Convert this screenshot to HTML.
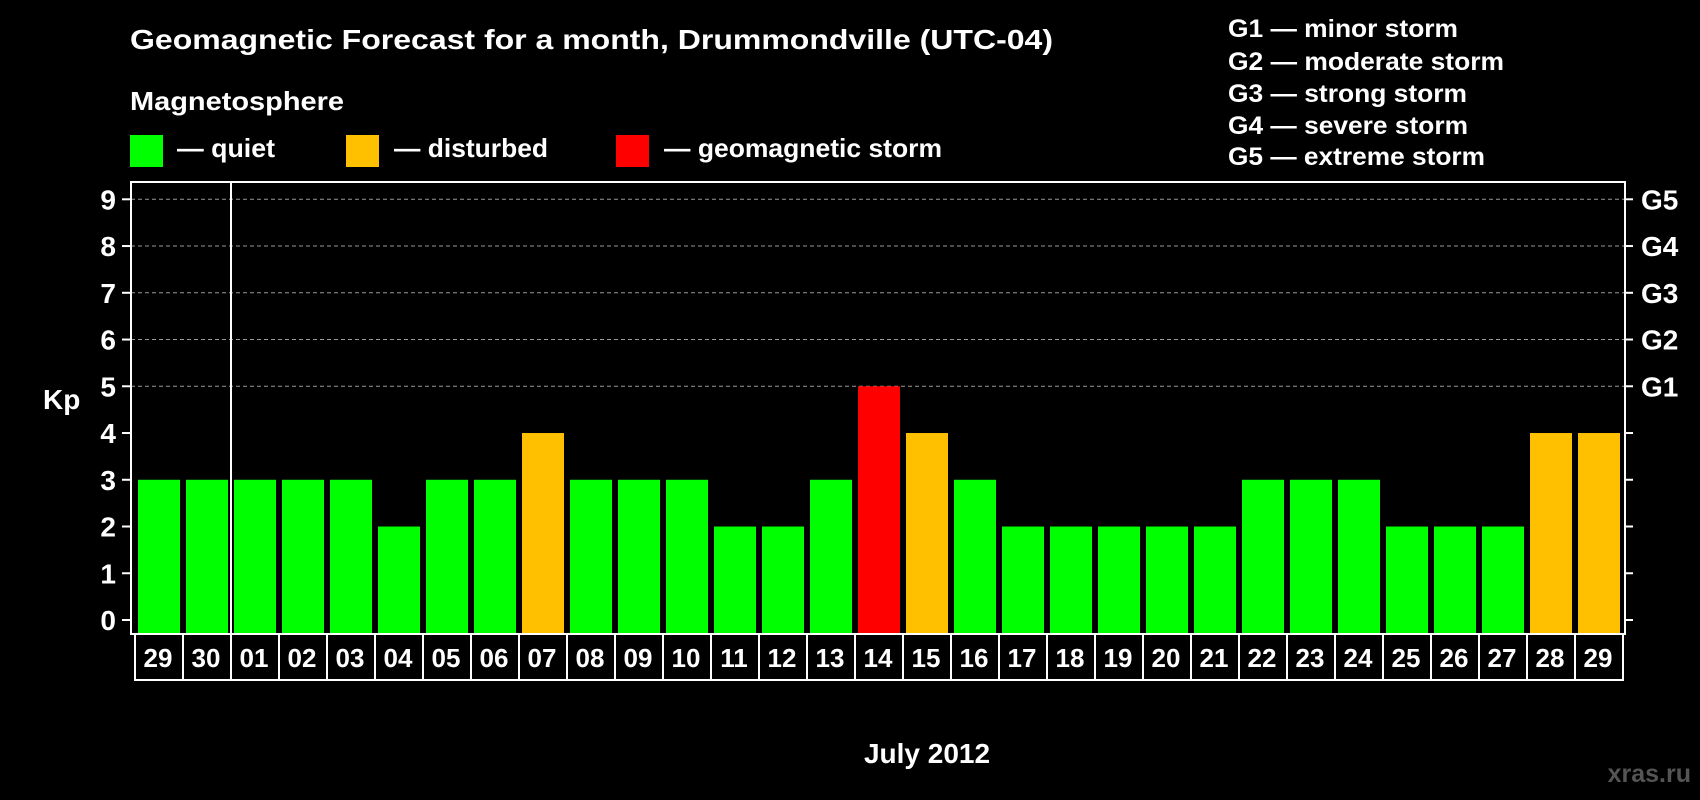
<!DOCTYPE html>
<html><head><meta charset="utf-8"><style>
html,body{margin:0;padding:0;background:#000;}
svg{display:block;font-family:"Liberation Sans",Arial,sans-serif;font-weight:bold;}
</style></head><body>
<svg id="chart" width="1700" height="800" viewBox="0 0 1700 800">
<rect width="1700" height="800" fill="#000"/>
<text x="130" y="49" fill="#fff" font-size="28" textLength="923" lengthAdjust="spacingAndGlyphs">Geomagnetic Forecast for a month, Drummondville (UTC-04)</text>
<text x="130" y="110" fill="#fff" font-size="26" textLength="214" lengthAdjust="spacingAndGlyphs">Magnetosphere</text>
<rect x="130" y="135" width="33" height="32" fill="#00ff00"/>
<text x="177" y="157" fill="#fff" font-size="26" textLength="98" lengthAdjust="spacingAndGlyphs">— quiet</text>
<rect x="346" y="135" width="33" height="32" fill="#ffc000"/>
<text x="394" y="157" fill="#fff" font-size="26" textLength="154" lengthAdjust="spacingAndGlyphs">— disturbed</text>
<rect x="616" y="135" width="33" height="32" fill="#ff0000"/>
<text x="664" y="157" fill="#fff" font-size="26" textLength="278" lengthAdjust="spacingAndGlyphs">— geomagnetic storm</text>
<g fill="#fff" font-size="25">
<text x="1228" y="37" textLength="230" lengthAdjust="spacingAndGlyphs">G1 — minor storm</text>
<text x="1228" y="70" textLength="276" lengthAdjust="spacingAndGlyphs">G2 — moderate storm</text>
<text x="1228" y="102" textLength="239" lengthAdjust="spacingAndGlyphs">G3 — strong storm</text>
<text x="1228" y="134" textLength="240" lengthAdjust="spacingAndGlyphs">G4 — severe storm</text>
<text x="1228" y="165" textLength="257" lengthAdjust="spacingAndGlyphs">G5 — extreme storm</text>
</g>
<text x="43" y="409" fill="#fff" font-size="28">Kp</text>
<text x="927" y="763" fill="#fff" font-size="28" text-anchor="middle">July 2012</text>
<text x="1691" y="782" fill="#555" font-size="25" text-anchor="end">xras.ru</text>
<g id="plot"></g>
</svg>
<script>
const days = ["29","30","01","02","03","04","05","06","07","08","09","10","11","12","13","14","15","16","17","18","19","20","21","22","23","24","25","26","27","28","29"];
const kpValues = [3,3,3,3,3,2,3,3,4,3,3,3,2,2,3,5,4,3,2,2,2,2,2,3,3,3,2,2,2,4,4];
const yTicks = [0,1,2,3,4,5,6,7,8,9];
const gLabels = ["G1","G2","G3","G4","G5"];
const gLevels = [5,6,7,8,9];

const NS = "http://www.w3.org/2000/svg";
const plot = document.getElementById("plot");
const PL = 131, PR = 1625, PT = 182, PB = 634;
const y0 = 620, yUnit = (620 - 199.3) / 9;
const xStart = 138, pitch = 48, barW = 42;
function yScale(v){ return y0 - v * yUnit; }
function xScale(i){ return xStart + i * pitch; }
function el(tag, attrs){ const e = document.createElementNS(NS, tag); for (const k in attrs) e.setAttribute(k, attrs[k]); plot.appendChild(e); return e; }
function color(v){ return v >= 5 ? "#ff0000" : v === 4 ? "#ffc000" : "#00ff00"; }

gLevels.forEach(v => {
  const g = el("line", {x1: PL, x2: PR, y1: yScale(v), y2: yScale(v), stroke: "#999", "stroke-width": 1, "stroke-dasharray": "4,3"});
  
  
});
kpValues.forEach((v, i) => {
  const b = el("rect", {x: xScale(i), y: yScale(v), width: barW, height: PB - yScale(v), fill: color(v)});
  
  
});
const f = el("rect", {x: PL, y: PT, width: PR - PL, height: PB - PT, fill: "none", stroke: "#fff", "stroke-width": 2});


const sep = el("line", {x1: xScale(2) - 3, x2: xScale(2) - 3, y1: PT, y2: PB, stroke: "#fff", "stroke-width": 2});


yTicks.forEach(v => {
  const y = yScale(v);
  const t1 = el("line", {x1: PL - 9, x2: PL, y1: y, y2: y, stroke: "#fff", "stroke-width": 2});
  
  
  const t2 = el("line", {x1: PR, x2: PR + 8, y1: y, y2: y, stroke: "#fff", "stroke-width": 2});
  
  
  const l = el("text", {x: 116, y: y + 10, fill: "#fff", "font-size": 28, "text-anchor": "end"});
  l.textContent = String(v);
  
  
});
gLevels.forEach((v, i) => {
  const l = el("text", {x: 1641, y: yScale(v) + 10, fill: "#fff", "font-size": 28});
  l.textContent = gLabels[i];
  
  
});
const bx0 = 135, bTop = 634, bBot = 680;
const box = el("rect", {x: bx0, y: bTop, width: xScale(days.length) - 3 - bx0, height: bBot - bTop, fill: "none", stroke: "#fff", "stroke-width": 2});


days.forEach((d, i) => {
  if (i > 0) {
    const s = el("line", {x1: xScale(i) - 3, x2: xScale(i) - 3, y1: bTop, y2: bBot, stroke: "#fff", "stroke-width": 2});
    
    
  }
  const t = el("text", {x: xScale(i) + barW / 2 - 1, y: 667, fill: "#fff", "font-size": 26, "text-anchor": "middle"});
  t.textContent = d;
  
  
});
</script>
</body></html>
